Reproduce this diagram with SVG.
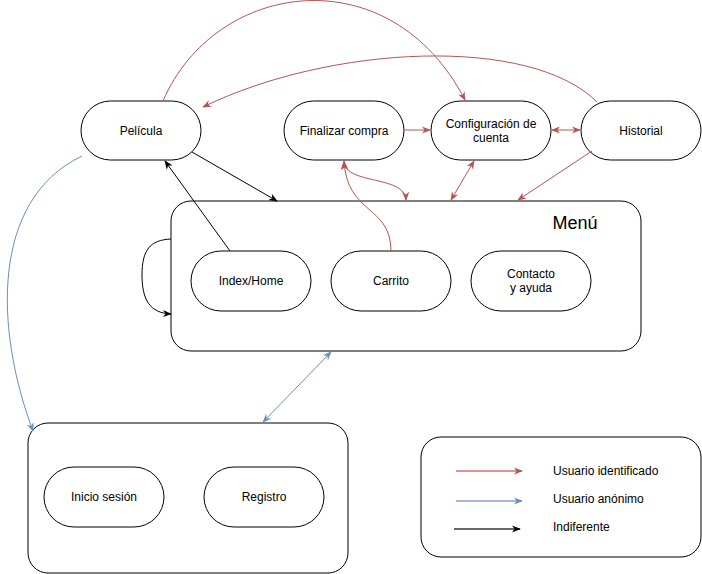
<svg xmlns="http://www.w3.org/2000/svg" width="702" height="574" viewBox="0 0 702 574">
<style>
.n{fill:#fff;stroke:#000;stroke-width:1}
.t{font-family:"Liberation Sans",Arial,sans-serif;font-size:12px;fill:#000;text-anchor:middle}
.e{fill:none;stroke-width:1}
.r{stroke:#b85450}
.b{stroke:#6c8ebf}
.k{stroke:#000}
.lg{font-family:"Liberation Sans",Arial,sans-serif;font-size:12px;fill:#000}
</style>
<defs>
<marker id="ar" viewBox="0 0 10 10" refX="9" refY="5" markerWidth="9" markerHeight="9" markerUnits="userSpaceOnUse" orient="auto-start-reverse"><path d="M0,1 L10,5 L0,9 L3,5 Z" fill="#b85450"/></marker>
<marker id="ab" viewBox="0 0 10 10" refX="9" refY="5" markerWidth="9" markerHeight="9" markerUnits="userSpaceOnUse" orient="auto-start-reverse"><path d="M0,1 L10,5 L0,9 L3,5 Z" fill="#6c8ebf"/></marker>
<marker id="ak" viewBox="0 0 10 10" refX="9" refY="5" markerWidth="9" markerHeight="9" markerUnits="userSpaceOnUse" orient="auto-start-reverse"><path d="M0,1 L10,5 L0,9 L3,5 Z" fill="#000"/></marker>
</defs>

<g id="menu"><rect class="n" x="171" y="201" width="470" height="150" rx="20"/><text x="575" y="229" style="font-family:'Liberation Sans',Arial,sans-serif;font-size:18px;text-anchor:middle">Menú</text></g>
<g id="sesion-box"><rect class="n" x="28" y="423" width="320" height="150" rx="20"/></g>
<g id="legend-box"><rect class="n" x="421" y="437" width="280" height="120" rx="20"/></g>

<g id="pelicula"><rect class="n" x="81" y="101" width="120" height="59" rx="29.5"/><text class="t" x="141" y="134.5">Película</text></g>
<g id="finalizar"><rect class="n" x="284" y="101" width="120" height="59" rx="29.5"/><text class="t" x="344" y="134.5">Finalizar compra</text></g>
<g id="config"><rect class="n" x="431" y="101" width="120" height="59" rx="29.5"/><text class="t" x="491" y="128">Configuración de</text><text class="t" x="491" y="142">cuenta</text></g>
<g id="historial"><rect class="n" x="581" y="101" width="120" height="59" rx="29.5"/><text class="t" x="641" y="134.5">Historial</text></g>
<g id="index"><rect class="n" x="191" y="251" width="120" height="60" rx="30"/><text class="t" x="251" y="285">Index/Home</text></g>
<g id="carrito"><rect class="n" x="331" y="251" width="120" height="60" rx="30"/><text class="t" x="391" y="285">Carrito</text></g>
<g id="contacto"><rect class="n" x="471" y="251" width="120" height="60" rx="30"/><text class="t" x="531" y="278">Contacto</text><text class="t" x="531" y="292">y ayuda</text></g>
<g id="inicio"><rect class="n" x="44" y="467" width="120" height="60" rx="30"/><text class="t" x="104" y="501">Inicio sesión</text></g>
<g id="registro"><rect class="n" x="204" y="467" width="120" height="60" rx="30"/><text class="t" x="264" y="501">Registro</text></g>

<g id="connectors">
<path class="e r" d="M163,101 C215,-20 390,-45 465,100" marker-end="url(#ar)"/>
<path class="e r" d="M597,102 C530,35 330,45 203,107" marker-end="url(#ar)"/>
<path class="e r" d="M404,130 L430,130" marker-end="url(#ar)"/>
<path class="e r" d="M552,130 L580,130" marker-start="url(#ar)" marker-end="url(#ar)"/>
<path class="e r" d="M592,151 L518,200" marker-end="url(#ar)"/>
<path class="e r" d="M474,161 L451,200" marker-start="url(#ar)" marker-end="url(#ar)"/>
<path class="e r" d="M391,251 C391,205 347,215 344,161" marker-end="url(#ar)"/>
<path class="e r" d="M344,162 C346,185 405,175 406,200" marker-start="url(#ar)" marker-end="url(#ar)"/>
<path class="e k" d="M192,152 L277,201" marker-end="url(#ak)"/>
<path class="e k" d="M230,251 L165,161" marker-end="url(#ak)"/>
<path class="e k" d="M171,239 C150,240 142,250 142,275 C142,300 150,313 171,314" marker-end="url(#ak)"/>
<path class="e b" d="M82,156 C-10,200 -5,330 33,431" marker-end="url(#ab)"/>
<path class="e b" d="M331,352 L263,422" marker-start="url(#ab)" marker-end="url(#ab)"/>
</g>

<g id="legend">
<path d="M456,471 L522,471" fill="none" stroke="#b85450" stroke-width="2" stroke-opacity="0.6" marker-end="url(#ar)"/>
<path d="M456,501 L522,501" fill="none" stroke="#6c8ebf" stroke-width="2" stroke-opacity="0.6" marker-end="url(#ab)"/>
<path d="M454,529 L520,529" fill="none" stroke="#000" stroke-width="2" stroke-opacity="0.6" marker-end="url(#ak)"/>
<text class="lg" x="553" y="475">Usuario identificado</text>
<text class="lg" x="553" y="503">Usuario anónimo</text>
<text class="lg" x="553" y="531">Indiferente</text>
</g>
</svg>
